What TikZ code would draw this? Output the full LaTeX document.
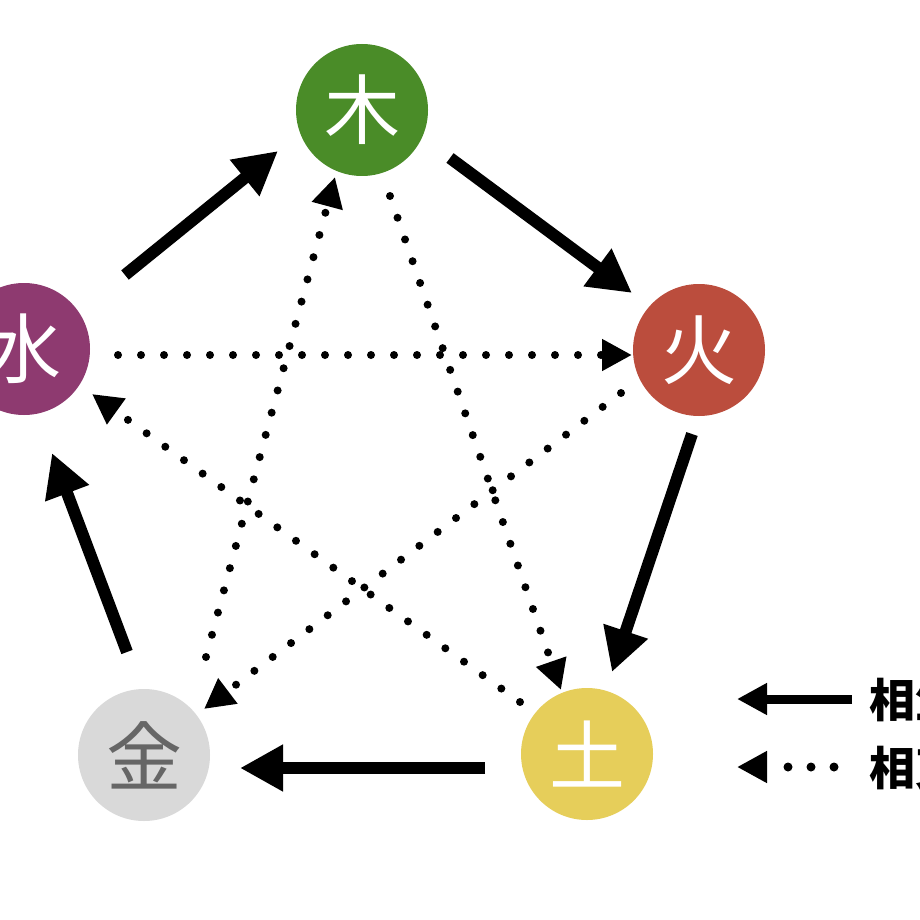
\documentclass[tikz,border=0pt]{standalone}
\usepackage{fontspec}
\newfontfamily\cjk{Noto Sans CJK JP}
\usetikzlibrary{arrows.meta}
\definecolor{cmu}{HTML}{4A8C28}
\definecolor{chuo}{HTML}{BB4D3D}
\definecolor{ctu}{HTML}{E6CE5A}
\definecolor{cjin}{HTML}{D9D9D9}
\definecolor{cshui}{HTML}{8E3A70}
\definecolor{cjintext}{HTML}{666666}
\begin{document}
\begin{tikzpicture}[x=1pt,y=-1pt,
  element/.style={circle, minimum size=132pt, inner sep=0pt, text=white,
    font=\cjk\fontsize{76}{76}\selectfont},
  sheng/.style={line width=12pt, -{Triangle[length=43pt,width=44pt]}},
  ke/.style={line width=8pt, line cap=round, dash pattern=on 0pt off 23pt,
    -{Triangle[length=30pt,width=30pt]}},
  legsheng/.style={line width=9pt, -{Triangle[length=30pt,width=30pt]}},
  legke/.style={line width=9pt, line cap=round, dash pattern=on 0pt off 23pt,
    -{Triangle[length=30pt,width=30pt]}},
  legtext/.style={anchor=west, inner sep=0pt, font=\cjk\bfseries\fontsize{46}{46}\selectfont}]
\fill[white] (0,0) rectangle (920,920);
\useasboundingbox (0,0) rectangle (920,920);

% elements
\node[element, fill=cmu]   (mu)   at (362,110) {木};
\node[element, fill=chuo]  (huo)  at (699,350) {火};
\node[element, fill=ctu]   (tu)   at (587,754) {土};
\node[element, fill=cjin, text=cjintext] (jin) at (144,755) {金};
\node[element, fill=cshui] (shui) at (24,349)  {水};

% arrow end points
\coordinate (sm1) at (125,275); \coordinate (sm2) at (278,151);
\coordinate (mh1) at (450,158); \coordinate (mh2) at (632,293);
\coordinate (ht1) at (692,434); \coordinate (ht2) at (612,672);
\coordinate (tj1) at (485,768); \coordinate (tj2) at (240,768);
\coordinate (js1) at (127,652); \coordinate (js2) at (52,453);

\coordinate (kmt1) at (390,196); \coordinate (kmt2) at (561,690);
\coordinate (kts1) at (520,702); \coordinate (kts2) at (92,394);
\coordinate (ksh1) at (118,355); \coordinate (ksh2) at (632,355);
\coordinate (khj1) at (621,393); \coordinate (khj2) at (204,709);
\coordinate (kjm1) at (206,657); \coordinate (kjm2) at (335,177);

% generating cycle
\draw[sheng] (sm1) -- (sm2);
\draw[sheng] (mh1) -- (mh2);
\draw[sheng] (ht1) -- (ht2);
\draw[sheng] (tj1) -- (tj2);
\draw[sheng] (js1) -- (js2);

% overcoming cycle
\draw[ke] (kmt1) -- (kmt2);
\draw[ke] (kts1) -- (kts2);
\draw[ke] (ksh1) -- (ksh2);
\draw[ke] (khj1) -- (khj2);
\draw[ke] (kjm1) -- (kjm2);

% legend
\coordinate (l1a) at (852,699); \coordinate (l1b) at (737,699);
\coordinate (l2a) at (834,767); \coordinate (l2b) at (737,767);
\draw[legsheng] (l1a) -- (l1b);
\draw[legke] (l2a) -- (l2b);
\node[legtext] (lt1) at (869,700) {相生};
\node[legtext] (lt2) at (869,768) {相克};
\end{tikzpicture}
\end{document}
